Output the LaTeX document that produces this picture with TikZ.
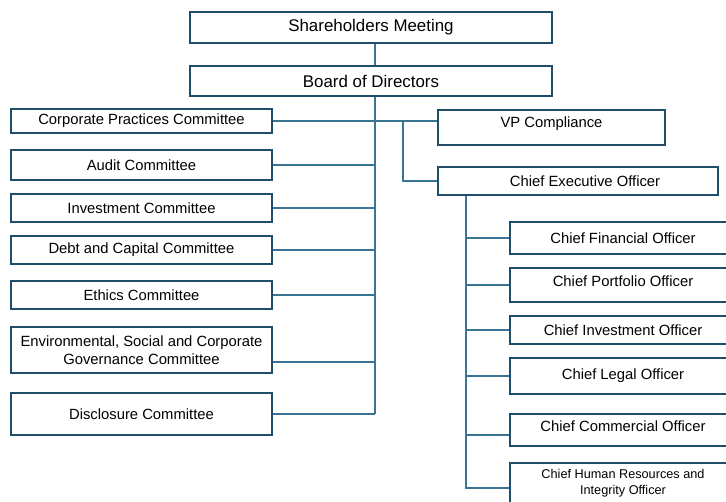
\documentclass[tikz,border=0pt]{standalone}
\usepackage{fontspec}
\setmainfont{Liberation Sans}
\usetikzlibrary{positioning}
\definecolor{boxblue}{HTML}{1F4E6B}
\definecolor{lineblue}{HTML}{3A7596}
\tikzset{
	orgbox/.style={draw=boxblue, line width=1.6pt, fill=white, inner sep=0pt, align=center, font=\fontsize{14.8}{18}\selectfont},
	topbox/.style={orgbox, minimum width=362pt, font=\fontsize{16.9}{20}\selectfont},
	cttee/.style={orgbox, minimum width=261pt},
	officer/.style={orgbox, minimum width=226pt},
	link/.style={draw=lineblue, line width=1.5pt},
}

\begin{document}
\begin{tikzpicture}[x=1pt, y=-1pt]
			%%%%% START %%%%%
			\clip (0,0) rectangle (726,502);
			
			% board level
			\node[topbox, minimum height=31pt] (share) at (371, 27.5) {Shareholders Meeting};
			\node[topbox, minimum height=30pt] (board) at (371, 81) {Board of Directors};
			
			% committees
			\node[cttee, minimum height=24pt] (corp) at (141.5, 121) {Corporate Practices Committee};
			\node[cttee, minimum height=30pt] (audit) at (141.5, 165) {Audit Committee};
			\node[cttee, minimum height=28pt] (invest) at (141.5, 208) {Investment Committee};
			\node[cttee, minimum height=28pt] (debt) at (141.5, 250) {Debt and Capital Committee};
			\node[cttee, minimum height=28pt] (ethics) at (141.5, 295) {Ethics Committee};
			\node[cttee, minimum height=46pt] (esg) at (141.5, 350) {Environmental, Social and Corporate\\Governance Committee};
			\node[cttee, minimum height=42pt] (disc) at (141.5, 414) {Disclosure Committee};
			
			% compliance and management
			\node[orgbox, minimum width=227pt, minimum height=35pt, text depth=10pt] (vp) at (551.5, 127.5) {VP Compliance};
			\node[orgbox, minimum width=280pt, minimum height=28pt] (ceo) at (578, 181) {\hspace{14pt}Chief Executive Officer};
			
			\node[officer, minimum height=32pt] (cfo) at (623, 238) {Chief Financial Officer};
			\node[officer, minimum height=34pt, text depth=8pt] (cpo) at (623, 285) {Chief Portfolio Officer};
			\node[officer, minimum height=28pt] (cinv) at (623, 330) {Chief Investment Officer};
			\node[officer, minimum height=36pt] (clo) at (623, 376) {Chief Legal Officer};
			\node[officer, minimum height=32pt, text depth=7pt] (cco) at (623, 430) {Chief Commercial Officer};
			\node[officer, minimum height=50pt, text depth=13pt, font=\fontsize{12.7}{16}\selectfont] (chro) at (623, 488) {Chief Human Resources and\\Integrity Officer};
			
			% connectors
			\coordinate (trunk) at ([xshift=4pt]board.south);
			\draw[link] ([xshift=4pt]share.south) -- ([xshift=4pt]board.north);
			\draw[link] (trunk) -- (trunk |- disc.east);
			\foreach \c in {audit,invest,debt,ethics,disc}
				\draw[link] (\c.east) -- (\c.east -| trunk);
			\draw[link] ([yshift=-12pt]esg.east) -- ([yshift=-12pt]esg.east -| trunk);
			
			\draw[link] (corp.east) -- (corp.east -| vp.west);
			\coordinate (split) at ([xshift=28pt]trunk |- corp.east);
			\draw[link] (split) |- (ceo.west);
			
			\coordinate (ceotrunk) at ([xshift=-112pt]ceo.south);
			\draw[link] (ceotrunk) |- (chro.west);
			\foreach \c in {cfo,cpo,cinv,clo}
				\draw[link] (\c.west) -- (\c.west -| ceotrunk);
			\draw[link] ([yshift=-5pt]cco.west) -- ([yshift=-5pt]cco.west -| ceotrunk);
			
			%%%%% END %%%%%
\end{tikzpicture}
\end{document}
